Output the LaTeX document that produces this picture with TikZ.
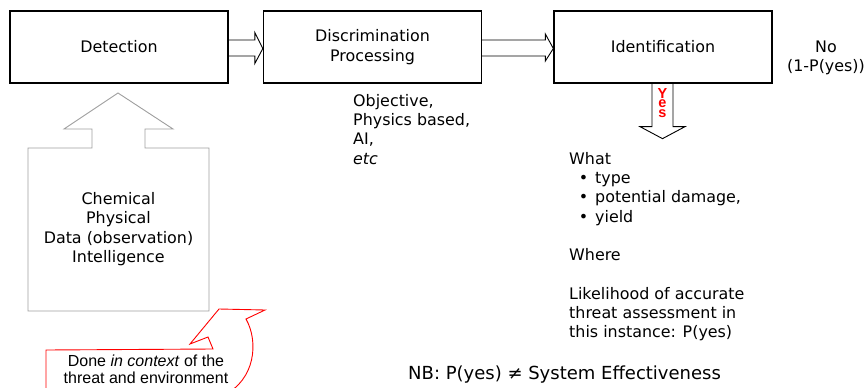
\documentclass[tikz,border=0pt]{standalone}
\usepackage{fontspec}
\setmainfont{DejaVu Sans}
\newfontfamily\arialfont{Liberation Sans}
\usetikzlibrary{calc}

\tikzset{
  body/.style={font=\fontsize{15.9}{19.3}\selectfont, inner sep=0pt},
  procbox/.style={body, draw, line width=1.3pt, fill=white,
    minimum width=218pt, minimum height=72pt, align=center},
  blockarrow/.style={draw=black, line width=0.9pt, line join=miter},
  grayarrow/.style={draw=black!38, line width=0.9pt},
  redcallout/.style={draw=red, line width=0.9pt, line join=miter},
  yestext/.style={text=red, inner sep=0pt, align=center,
    font=\arialfont\bfseries\fontsize{14.5}{9.6}\selectfont},
  ctxtext/.style={inner sep=0pt, align=center,
    font=\arialfont\fontsize{16}{17.5}\selectfont},
}

\begin{document}
\begin{tikzpicture}[x=1pt,y=-1pt]
\useasboundingbox (0,0) rectangle (867,388);

% process chain
\node[procbox] (det)   at (119,47)   {Detection};
\node[procbox] (disc)  at (372.5,47) {Discrimination\\Processing};
\node[procbox] (ident) at (663,47)   {Identification};

% block arrows between the stages
\draw[blockarrow] ($(det.east)+(0,-7)$) -- ($(disc.west)+(-8,-7)$)
  -- ($(disc.west)+(-8,-14.5)$) -- ($(disc.west)+(0,1.5)$)
  -- ($(disc.west)+(-8,16.5)$) -- ($(disc.west)+(-8,9)$)
  -- ($(det.east)+(0,9)$);
\draw[blockarrow] ($(disc.east)+(0,-7)$) -- ($(ident.west)+(-8,-7)$)
  -- ($(ident.west)+(-8,-13)$) -- ($(ident.west)+(0,1.5)$)
  -- ($(ident.west)+(-8,14)$) -- ($(ident.west)+(-8,9)$)
  -- ($(disc.east)+(0,9)$);

% "Yes" outcome arrow
\coordinate (yesend) at ($(ident.south)+(-0.5,55)$);
\draw[blockarrow] ($(ident.south)+(-11,0)$) -- ($(ident.south)+(-11,43)$)
  -- ($(ident.south)+(-23,43)$) -- (yesend)
  -- ($(ident.south)+(22,43)$) -- ($(ident.south)+(10,43)$)
  -- ($(ident.south)+(10,0)$);
\node[yestext] (yes) at (662.5,103) {Y\\e\\s};

% inputs feeding detection
\draw[grayarrow] (28,311) -- (28,148) -- (92,148) -- (92,129) -- (64,129)
  -- (118,93) -- (173,129) -- (145,129) -- (145,148) -- (209,148)
  -- (209,311) -- cycle;
\node[body, align=center] (inputs) at (118.5,229)
  {Chemical\\Physical\\Data (observation)\\Intelligence};

% context callout
\draw[redcallout] (46,395) -- (46,350) -- (213,349) -- (208,337)
  -- (190,344) -- (219,309) -- (265,310) -- (246,319)
  .. controls (259,342) and (255,380) .. (224,395);
\node[ctxtext] (ctx) at (146,369.5)
  {Done \textit{in context} of the\\threat and environment};

% annotations
\node[body, anchor=north west, align=left] (discnotes) at (353,94)
  {Objective,\\Physics based,\\AI,\\\textit{etc}};
\node[body, align=center] (no) at (826,58) {No\\(1-P(yes))};
\node[body, anchor=north west, align=left] (identnotes) at (569,152)
  {What\\
   \makebox[26pt][r]{\textbullet\hspace{7pt}}type\\
   \makebox[26pt][r]{\textbullet\hspace{7pt}}potential damage,\\
   \makebox[26pt][r]{\textbullet\hspace{7pt}}yield\\[19.3pt]
   Where\\[19.3pt]
   Likelihood of accurate\\threat assessment in\\this instance: P(yes)};
\node[body, anchor=west, font=\fontsize{18}{21}\selectfont] (nb) at (408,375)
  {NB: P(yes) ≠ System Effectiveness};
\end{tikzpicture}
\end{document}
